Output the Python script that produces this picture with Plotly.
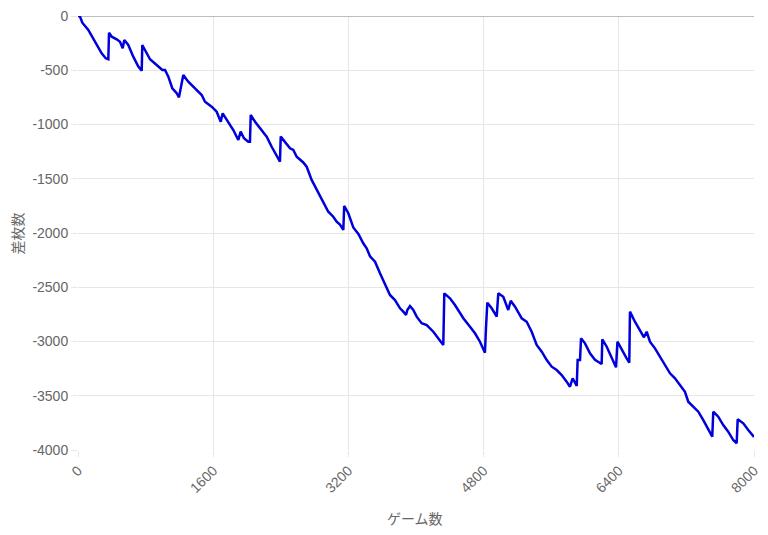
import plotly.graph_objects as go

games = [0, 24, 51, 122, 201, 280, 328, 359, 367, 399, 458, 497, 529, 548, 595, 654, 714, 754,
         761, 801, 852, 931, 998, 1030, 1069, 1116, 1168, 1195, 1219, 1246, 1305, 1385, 1464,
         1503, 1582, 1641, 1689, 1712, 1760, 1838, 1897, 1925, 1964, 2015, 2035, 2044, 2095,
         2154, 2233, 2292, 2343, 2390, 2399, 2450, 2509, 2548, 2588, 2666, 2706, 2765, 2825,
         2903, 2962, 3021, 3061, 3100, 3140, 3150, 3199, 3258, 3318, 3376, 3416, 3456, 3515,
         3574, 3633, 3692, 3751, 3811, 3850, 3882, 3897, 3929, 3968, 4008, 4067, 4127, 4205,
         4264, 4323, 4335, 4402, 4461, 4521, 4560, 4639, 4698, 4757, 4816, 4828, 4844, 4896,
         4955, 4974, 5033, 5092, 5121, 5172, 5251, 5310, 5369, 5428, 5488, 5547, 5606, 5665,
         5724, 5783, 5822, 5854, 5902, 5913, 5941, 5953, 6000, 6059, 6118, 6197, 6205, 6257,
         6316, 6367, 6384, 6434, 6493, 6524, 6532, 6591, 6651, 6698, 6730, 6769, 6828, 6887,
         6947, 7006, 7065, 7124, 7183, 7222, 7282, 7341, 7400, 7459, 7506, 7518, 7577, 7636,
         7695, 7754, 7795, 7807, 7873, 7932, 7984, 8000]

diff = [0, -6, -62, -129, -237, -344, -390, -399, -154, -191, -215, -237, -298, -221, -267,
        -375, -467, -504, -267, -329, -399, -452, -498, -498, -559, -666, -712, -749, -666,
        -544, -606, -666, -728, -790, -836, -882, -974, -897, -959, -1051, -1143, -1066, -1127,
        -1159, -1159, -912, -974, -1035, -1112, -1205, -1281, -1343, -1112, -1166, -1219,
        -1235, -1297, -1350, -1389, -1511, -1604, -1726, -1804, -1850, -1896, -1922, -1972,
        -1751, -1818, -1949, -2009, -2095, -2141, -2215, -2265, -2372, -2479, -2571, -2618,
        -2694, -2725, -2756, -2710, -2673, -2710, -2771, -2832, -2848, -2910, -2970, -3032,
        -2556, -2602, -2664, -2740, -2786, -2864, -2924, -3002, -3103, -2878, -2642, -2694,
        -2771, -2556, -2587, -2710, -2624, -2679, -2786, -2818, -2910, -3032, -3094, -3171,
        -3232, -3263, -3309, -3370, -3417, -3339, -3410, -3171, -3171, -2970, -3017, -3109,
        -3168, -3207, -2980, -3048, -3147, -3238, -3002, -3078, -3155, -3195, -2725, -2818,
        -2894, -2961, -2910, -3002, -3063, -3140, -3217, -3293, -3339, -3401, -3463, -3555,
        -3601, -3647, -3724, -3816, -3877, -3647, -3693, -3770, -3831, -3908, -3938, -3717,
        -3754, -3816, -3862, -3880]

x_ticks = [0, 1600, 3200, 4800, 6400, 8000]
y_ticks = [0, -500, -1000, -1500, -2000, -2500, -3000, -3500, -4000]
y_labels = [str(v) for v in y_ticks]
x_title = "ゲーム数"
y_title = "差枚数"

fig = go.Figure()
fig.add_trace(go.Scatter(x=games, y=diff, mode="lines",
                         line=dict(color="#0000dd", width=2.5), hoverinfo="x+y"))

font_family = "Liberation Sans, Arial, Noto Sans CJK JP"
fig.update_layout(
    width=768, height=535,
    margin=dict(l=70, r=22, t=8, b=93),
    paper_bgcolor="white", plot_bgcolor="white",
    showlegend=False,
    font=dict(family=font_family, size=14, color="#666"),
    xaxis=dict(range=[0, 8000], tickvals=x_ticks, ticktext=[str(v) for v in x_ticks],
               tickangle=-45, showgrid=True, gridcolor="#e6e6e6", gridwidth=1,
               zeroline=False, showline=False, ticks="outside", ticklen=6,
               tickcolor="#e6e6e6", tickfont=dict(size=14, color="#666"),
               automargin=False, ticklabeloverflow="allow"),
    yaxis=dict(range=[-4000, 0], tickvals=y_ticks, ticktext=y_labels,
               showgrid=True, gridcolor="#e6e6e6", gridwidth=1,
               zeroline=True, zerolinecolor="#bdbdbd", zerolinewidth=1,
               showline=False, ticks="outside", ticklen=6, tickcolor="#e6e6e6",
               tickfont=dict(size=14, color="#666"), automargin=False,
               ticklabeloverflow="allow"),
    annotations=[
        dict(text=x_title, xref="paper", yref="paper", x=0.4985, y=-0.157,
             xanchor="center", yanchor="middle", showarrow=False,
             font=dict(family="Noto Sans CJK JP", size=14, color="#666")),
        dict(text=y_title, xref="paper", yref="paper", x=-0.0895, y=0.5,
             xanchor="center", yanchor="middle", showarrow=False, textangle=-90,
             font=dict(family="Noto Sans CJK JP", size=14, color="#666")),
    ],
)

fig.write_html("out.html")
